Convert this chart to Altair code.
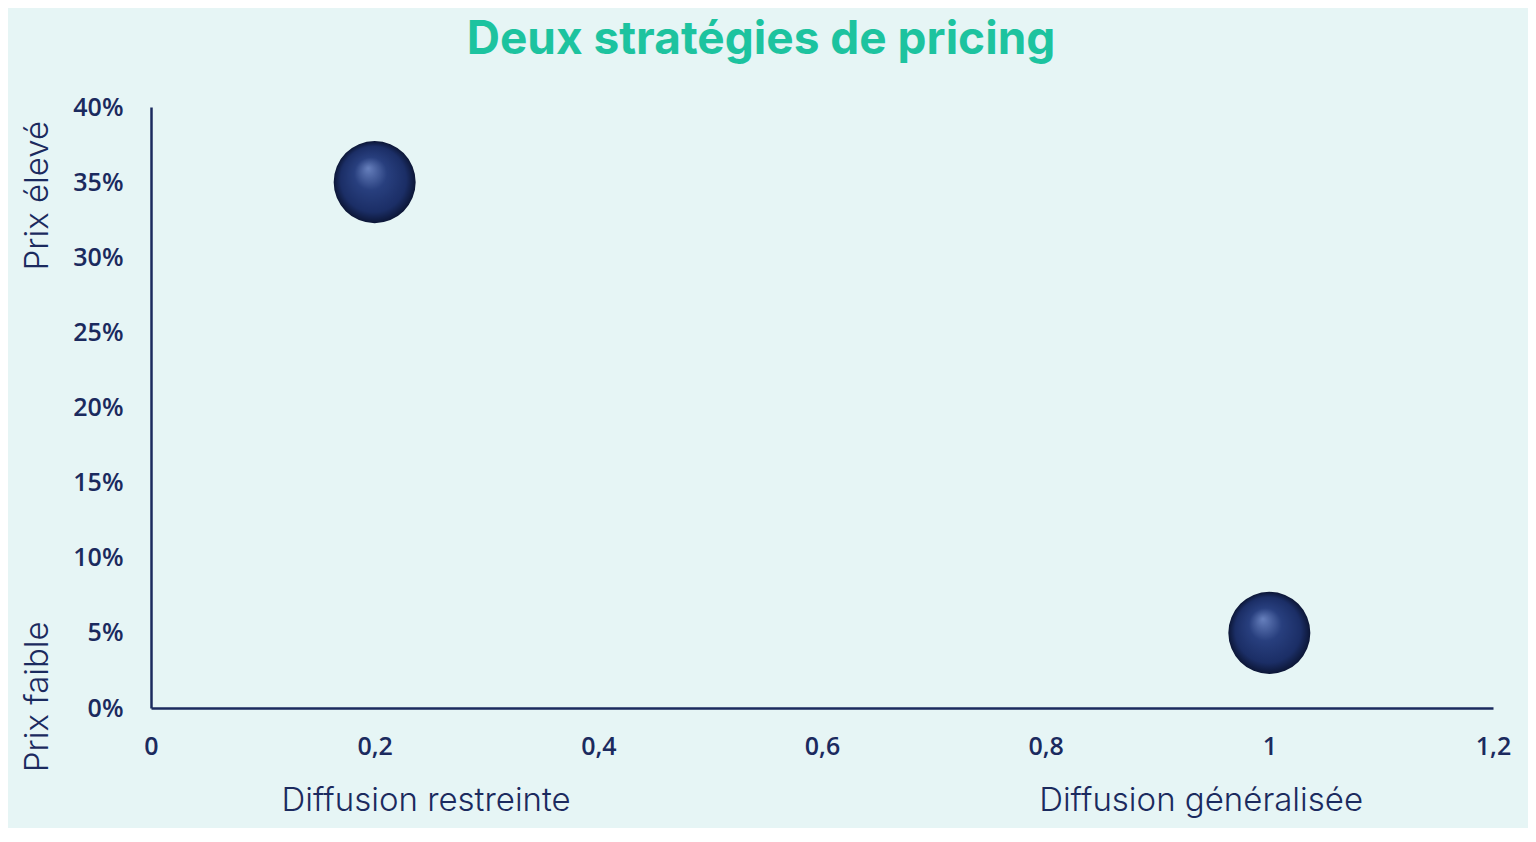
import altair as alt
import pandas as pd

# Data
diffusion = [0.2, 1.0]
prix = [0.35, 0.05]
strategie = ["Écrémage", "Pénétration"]

x_ticks = [0, 0.2, 0.4, 0.6, 0.8, 1.0, 1.2]
y_ticks = [0, 0.05, 0.10, 0.15, 0.20, 0.25, 0.30, 0.35, 0.40]

x_notes = ["Diffusion restreinte", "Diffusion généralisée"]
x_note_pos = [0.246, 0.939]
y_notes = ["Prix élevé", "Prix faible"]
y_note_pos = [0.341, 0.0075]

NAVY = "#1b2a5e"
BG = "#e6f5f5"
TEAL = "#1dc39f"

W, H = 1342, 601

points = pd.DataFrame({"diffusion": diffusion, "prix": prix, "strategie": strategie})
xnotes = pd.DataFrame({"label": x_notes, "pos": x_note_pos})
ynotes = pd.DataFrame({"label": y_notes, "pos": y_note_pos})

xscale = alt.Scale(domain=[0, 1.2], nice=False, zero=True)
yscale = alt.Scale(domain=[0, 0.4], nice=False)

sphere_fill = {
    "gradient": "radial",
    "x1": 0.42, "y1": 0.33, "r1": 0.0,
    "x2": 0.5, "y2": 0.5, "r2": 0.5,
    "stops": [
        {"offset": 0.0, "color": "#6780bd"},
        {"offset": 0.4, "color": "#283f7e"},
        {"offset": 0.8, "color": "#1b2e66"},
        {"offset": 1.0, "color": "#0c1636"},
    ],
}

base_points = alt.Chart(points).mark_point(
    shape="circle", filled=True, fill=sphere_fill, size=6724, opacity=1, stroke=None
).encode(
    x=alt.X(
        "diffusion:Q",
        scale=xscale,
        axis=alt.Axis(
            values=x_ticks,
            labelExpr="replace(format(datum.value, '~g'), '.', ',')",
            title=None,
            grid=False,
            ticks=False,
            labelFlush=False,
            domainColor=NAVY,
            domainWidth=2.5,
            labelColor=NAVY,
            labelFont="Open Sans",
            labelFontWeight=600,
            labelFontSize=25,
            labelPadding=26,
        ),
    ),
    y=alt.Y(
        "prix:Q",
        scale=yscale,
        axis=alt.Axis(
            values=y_ticks,
            format=".0%",
            title=None,
            grid=False,
            ticks=False,
            labelFlush=False,
            domainColor=NAVY,
            domainWidth=2.5,
            labelColor=NAVY,
            labelFont="Open Sans",
            labelFontWeight=600,
            labelFontSize=25,
            labelPadding=28,
        ),
    ),
    tooltip=["strategie:N"],
)

x_text = alt.Chart(xnotes).mark_text(
    font="Inter", fontSize=33, fontWeight=300, color=NAVY, baseline="middle", align="center"
).encode(
    x=alt.X("pos:Q", scale=xscale),
    y=alt.value(H + 93),
    text="label:N",
)

y_text = alt.Chart(ynotes).mark_text(
    font="Inter", fontSize=33, fontWeight=300, color=NAVY, baseline="middle", align="center", angle=270
).encode(
    x=alt.value(-113),
    y=alt.Y("pos:Q", scale=yscale),
    text="label:N",
)

chart = alt.layer(base_points, x_text, y_text).properties(
    width=W,
    height=H,
    background=BG,
    padding={"left": 143, "top": 99, "right": 35, "bottom": 120},
    autosize=alt.AutoSizeParams(type="none"),
    title=alt.TitleParams(
        "Deux stratégies de pricing",
        font="Inter",
        fontSize=46,
        fontWeight="bold",
        color=TEAL,
        anchor="middle",
        frame="group",
        dx=-61,
        offset=31,
    ),
).configure_view(stroke=None)

chart.save("out.html", embed_options={"renderer": "svg", "actions": False})
